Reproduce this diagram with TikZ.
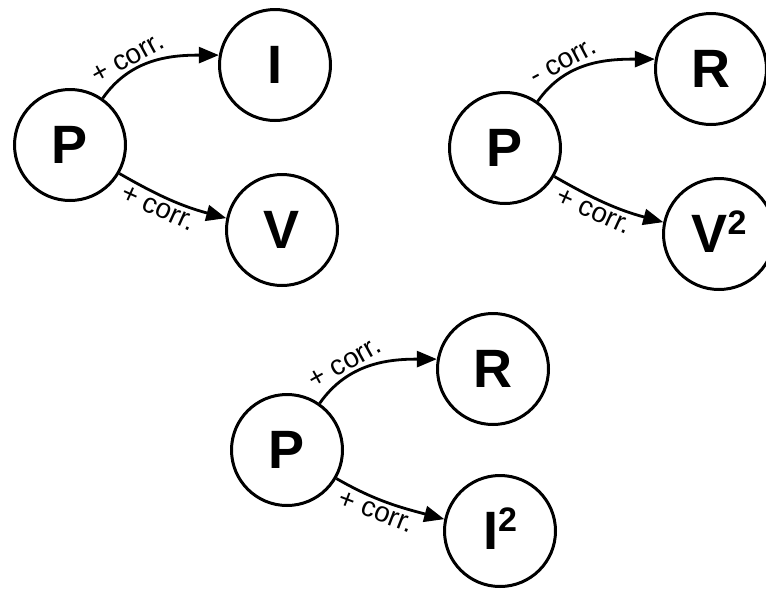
\documentclass[tikz,border=0pt]{standalone}
\usepackage{fontspec}
\setmainfont{Liberation Sans}
\usetikzlibrary{arrows.meta}

\newcommand{\sqd}[1]{#1\smash{\raisebox{18pt}{\fontsize{34}{34}\selectfont 2}}}

\begin{document}
\begin{tikzpicture}[x=1pt,y=-1pt,
  var/.style={draw, circle, line width=3pt, minimum size=111pt, inner sep=0pt,
    font=\fontsize{54}{54}\selectfont\bfseries},
  rel/.style={line width=2.8pt, -{Triangle[length=20pt,width=16pt]}},
  lbl/.style={font=\fontsize{28}{28}\selectfont, sloped, inner sep=3pt}]

\useasboundingbox (0,0) rectangle (766,590);

% P -> I e V
\node[var] (p1) at (70,145) {P};
\node[var] (i1) at (275,65) {I};
\node[var] (v1) at (282,230) {V};
\draw[rel] (p1.55) to[out=55,in=180] node[lbl,above,pos=0.33] {+ corr.} (i1.170);
\draw[rel] (p1.-30) to[out=-30,in=165] node[lbl,below,pos=0.42] {+ corr.} (v1.168);

% P -> R e V^2
\node[var] (p2) at (505,148) {P};
\node[var] (r2) at (711,69) {R};
\node[var] (v2) at (719,234) {\sqd{V}};
\draw[rel] (p2.55) to[out=55,in=180] node[lbl,above,pos=0.33] {- corr.} (r2.170);
\draw[rel] (p2.-30) to[out=-30,in=165] node[lbl,below,pos=0.42] {+ corr.} (v2.168);

% P -> R e I^2
\node[var] (p3) at (287,450) {P};
\node[var] (r3) at (493,369) {R};
\node[var] (i3) at (500,531) {\sqd{I}};
\draw[rel] (p3.55) to[out=55,in=180] node[lbl,above,pos=0.33] {+ corr.} (r3.170);
\draw[rel] (p3.-30) to[out=-30,in=165] node[lbl,below,pos=0.42] {+ corr.} (i3.168);

\end{tikzpicture}
\end{document}
